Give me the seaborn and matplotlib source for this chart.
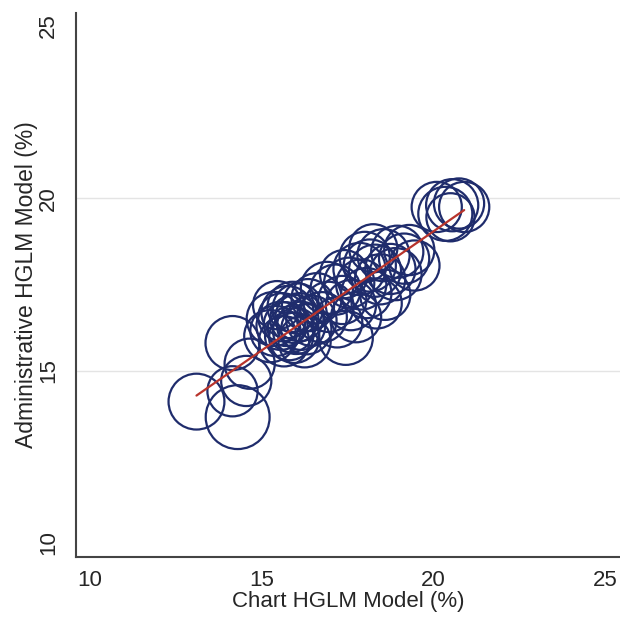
import numpy as np
import pandas as pd
import matplotlib
matplotlib.use("Agg")
import matplotlib.pyplot as plt
import seaborn as sns

sns.set_style("white")
plt.rcParams['font.family'] = ['Liberation Sans', 'DejaVu Sans']

# hospital-level rates (%)
chart_rate = [13.10, 14.30, 14.15, 14.55, 14.15, 14.65,
              15.25, 15.35, 15.55, 15.65, 15.75, 15.85, 15.95, 15.95, 16.05,
              16.15, 16.25, 16.35, 16.45, 15.45, 16.60, 16.75,
              15.40, 15.60, 15.80, 16.00, 16.10, 15.70, 16.30, 15.90,
              17.45, 16.95, 17.15, 17.35, 17.55, 17.75, 17.85, 18.05, 18.15,
              18.35, 18.45, 18.55, 18.75, 18.95, 19.15, 19.45, 18.25,
              16.90, 17.20, 17.60, 17.90, 18.30, 18.60, 18.90, 19.30, 17.40, 18.00,
              20.10, 20.35, 20.55, 20.75, 20.90, 20.50]
admin_rate = [14.10, 13.65, 14.40, 14.70, 15.80, 15.20,
              16.00, 16.50, 16.30, 15.85, 16.70, 16.20, 16.50, 15.95, 16.80,
              16.30, 15.85, 16.90, 16.45, 16.90, 17.10, 16.55,
              16.15, 16.55, 16.00, 16.15, 16.55, 16.35, 16.20, 16.85,
              15.95, 16.85, 17.35, 17.05, 17.55, 16.55, 17.95, 17.25, 18.05,
              16.95, 17.65, 18.35, 17.95, 18.45, 18.25, 18.05, 18.55,
              17.40, 16.40, 16.90, 17.50, 17.90, 17.20, 17.80, 18.50, 17.80, 18.30,
              19.75, 19.55, 19.80, 19.85, 19.75, 19.45]
# bubble weight (relative hospital volume)
volume = [7.8, 10.2, 6.3, 6.3, 7.3, 6.3,
          6.8, 7.3, 5.8, 6.3, 6.8, 5.3, 5.8, 6.3, 6.3,
          5.8, 6.8, 6.8, 6.3, 5.8, 6.3, 6.3,
          6.3, 5.8, 5.8, 5.3, 5.8, 4.8, 6.3, 6.3,
          7.3, 6.3, 6.3, 5.8, 6.3, 6.3, 6.8, 6.3, 6.8,
          6.3, 6.3, 6.8, 6.3, 6.8, 6.3, 6.3, 5.8,
          6.8, 6.3, 6.3, 6.3, 6.8, 6.3, 6.8, 6.3, 5.8, 6.3,
          6.3, 7.3, 6.8, 6.3, 6.3, 5.8]

df = pd.DataFrame({'chart': chart_rate, 'admin': admin_rate, 'volume': volume})

navy = '#1f2c6c'
red = '#b8342c'

fig = plt.figure(figsize=(6.2, 6.18), dpi=100)
ax = fig.add_axes([0.1226, 0.0987, 0.8774, 0.8803])

for g in [15, 20]:
    ax.axhline(g, color='#e4e4e4', lw=1.0, zorder=0)

# radius px -> marker area in pt^2 : (2 * r * 0.72)^2, volume ~ r^2 / 100
vmin, vmax = min(volume), max(volume)
smin = (1.44 * np.sqrt(vmin * 100)) ** 2
smax = (1.44 * np.sqrt(vmax * 100)) ** 2
sns.scatterplot(data=df, x='chart', y='admin', size='volume', sizes=(smin, smax),
                size_norm=(vmin, vmax), legend=False, ax=ax, marker='o')
pts = ax.collections[-1]
pts.set_facecolor('none')
pts.set_edgecolor(navy)
pts.set_linewidth(1.6)

sns.regplot(data=df, x='chart', y='admin', scatter=False, ci=None, truncate=True,
            color=red, line_kws={'lw': 1.6}, ax=ax)

ax.set_xlim(9.59, 25.44)
ax.set_ylim(9.59, 25.38)
ax.set_xticks([10, 15, 20, 25])
ax.set_yticks([10, 15, 20, 25])
ax.set_xticklabels(['10', '15', '20', '25'], fontsize=16)
ax.set_yticklabels(['10', '15', '20', '25'], fontsize=16, rotation=90, va='center')
ax.tick_params(axis='both', length=7, width=1.2, color='#444444', direction='out')
ax.tick_params(axis='x', pad=2.5)
ax.tick_params(axis='y', pad=5)

ax.set_xlabel('Chart HGLM Model (%)', fontsize=16, labelpad=0)
ax.set_ylabel('Administrative HGLM Model (%)', fontsize=16.5, labelpad=0)

for s in ['top', 'right']:
    ax.spines[s].set_visible(False)
for s in ['left', 'bottom']:
    ax.spines[s].set_color('#444444')
    ax.spines[s].set_linewidth(1.5)

plt.savefig('out.png', dpi=100)
